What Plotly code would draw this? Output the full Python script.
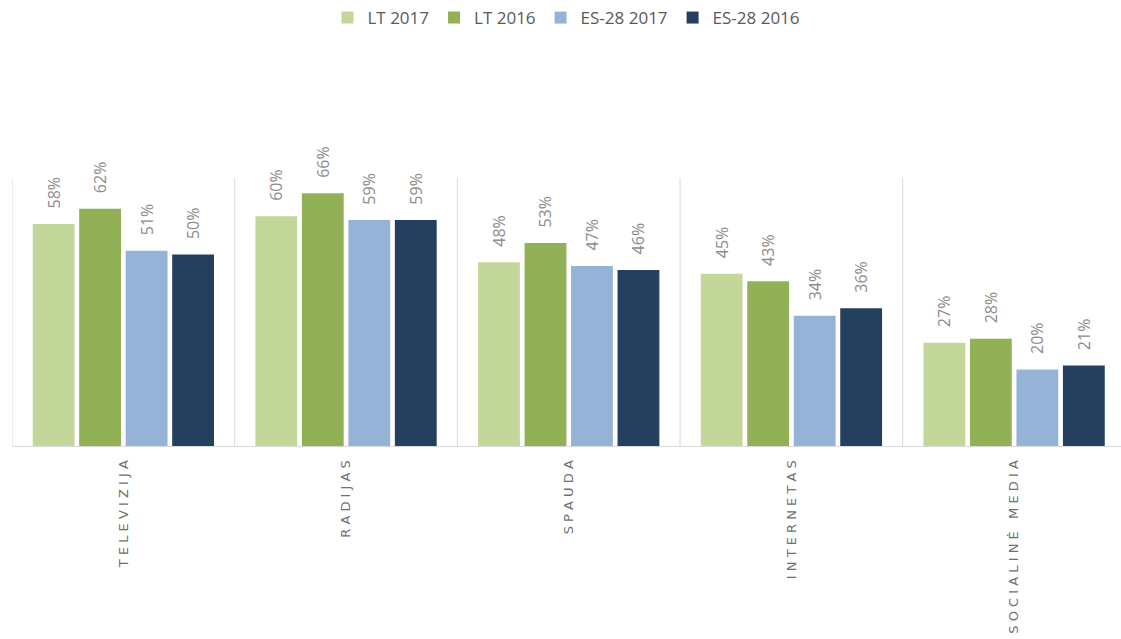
import plotly.graph_objects as go

categories = ["TELEVIZIJA", "RADIJAS", "SPAUDA", "INTERNETAS", "SOCIALINĖ MEDIA"]
series_names = ["LT 2017", "LT 2016", "ES-28 2017", "ES-28 2016"]
lt_2017 = [58, 60, 48, 45, 27]
lt_2016 = [62, 66, 53, 43, 28]
es_2017 = [51, 59, 47, 34, 20]
es_2016 = [50, 59, 46, 36, 21]

colors = ["#c4d79b", "#92b056", "#95b3d7", "#253f5f"]


def spaced(label):
    """Mimic the wide letter spacing of the category labels."""
    return " ".join(label)


fig = go.Figure()

for name, values, color in zip(series_names, [lt_2017, lt_2016, es_2017, es_2016], colors):
    fig.add_trace(go.Bar(
        x=categories,
        y=values,
        name=name,
        marker=dict(color=color, line=dict(width=0)),
        text=[f"\u00a0\u00a0\u00a0{v}%" for v in values],
        textposition="outside",
        textangle=-90,
        constraintext="none",
        textfont=dict(color="#8c8c8c", size=16, family="Open Sans"),
        cliponaxis=False,
        hovertemplate=f"{name}<br>%{{x}}: %{{y}}%<extra></extra>",
    ))

# vertical separators between categories
for i in range(len(categories) + 1):
    fig.add_shape(
        type="line", xref="x", yref="paper",
        x0=i - 0.5, x1=i - 0.5, y0=0, y1=1,
        line=dict(color="#d9d9d9", width=1),
    )

fig.update_layout(
    width=1121,
    height=639,
    barmode="group",
    bargap=0.165,
    bargroupgap=0.1,
    paper_bgcolor="white",
    plot_bgcolor="white",
    margin=dict(l=12, r=0, t=178, b=193),
    font=dict(family="Open Sans", color="#595959"),
    legend=dict(
        orientation="h",
        x=0.5, xanchor="center",
        y=1.0, yref="container", yanchor="top",
        font=dict(size=17, color="#595959"),
        itemwidth=30,
        traceorder="normal",
    ),
    xaxis=dict(
        range=[-0.5, len(categories) - 0.52],
        tickmode="array",
        tickvals=categories,
        ticktext=[spaced(c) for c in categories],
        tickangle=-90,
        tickfont=dict(size=13, color="#707070", family="DejaVu Sans"),
        ticklabelstandoff=8,
        showline=True,
        linecolor="#d9d9d9",
        showgrid=False,
        ticks="",
    ),
    yaxis=dict(
        range=[0, 70],
        visible=False,
        showgrid=False,
        zeroline=False,
    ),
    showlegend=True,
)

fig.write_html(
    "out.html",
    config={"displayModeBar": False},
    post_script="document.body.style.margin='0';",
)
